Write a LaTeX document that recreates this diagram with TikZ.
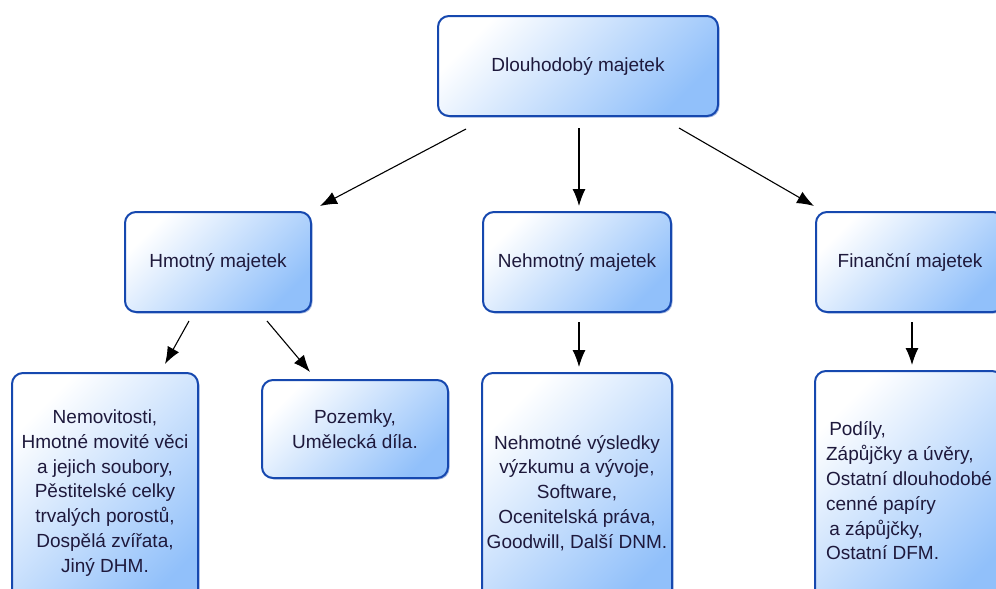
\documentclass[tikz,border=0pt]{standalone}
\usepackage{fontspec}
\setmainfont{Liberation Sans}
\usetikzlibrary{arrows.meta,shadows}
\definecolor{boxline}{RGB}{22,72,175}
\definecolor{boxblue}{RGB}{145,192,250}
\definecolor{boxtext}{RGB}{30,25,60}
\tikzset{arrowout/.style={-{Latex[length=17pt,width=13pt]},line width=1.1pt},
  box/.style={rectangle, rounded corners=11pt, draw=boxline, line width=2pt,
    top color=white, bottom color=boxblue, shading angle=45, text=boxtext,
    align=center, inner sep=0pt, font=\fontsize{19}{24.8}\selectfont,
    drop shadow={shadow xshift=1.5pt,shadow yshift=-1.5pt,fill=boxline,opacity=0.35}}}

\begin{document}
\begin{tikzpicture}[x=1pt,y=-1pt]

\path[use as bounding box,clip] (0,0) rectangle (996,589);
\fill[white] (0,0) rectangle (996,589);

\node (dm) at (578,66)[box,minimum width=280pt,minimum height=100pt]{Dlouhodobý majetek};

\node (hm) at (218,262)[box,minimum width=186pt,minimum height=100pt]{Hmotný majetek};
\node (nm) at (577,262)[box,minimum width=188pt,minimum height=100pt]{Nehmotný majetek};
\node (fm) at (910,262)[box,minimum width=188pt,minimum height=100pt]{Finanční majetek};

\node (hm1) at (105,493)[box,minimum width=186pt,minimum height=240pt]{Nemovitosti,\\Hmotné movité věci\\a jejich soubory,\\Pěstitelské celky\\trvalých porostů,\\Dospělá zvířata,\\Jiný DHM.};
\node (hm2) at (355,429)[box,minimum width=186pt,minimum height=98pt]{Pozemky,\\Umělecká díla.};
\node (nm1) at (577,493)[box,minimum width=190pt,minimum height=240pt]{Nehmotné výsledky\\výzkumu a vývoje,\\Software,\\Ocenitelská práva,\\Goodwill, Další DNM.};
\node (fm1) at (909,491)[box,minimum width=188pt,minimum height=240pt,align=left]{\,Podíly,\\Zápůjčky a úvěry,\\Ostatní dlouhodobé\\cenné papíry\\\,a zápůjčky,\\Ostatní DFM.};

\draw[arrowout] ([shift={(29,12)}]dm.south west) -- ([shift={(8,-5)}]hm.north east);
\draw[arrowout] ([shift={(1,11)}]dm.south) -- ([shift={(2,-5)}]nm.north);
\draw[arrowout] ([shift={(-40,11)}]dm.south east) -- ([shift={(-1,-5)}]fm.north west);

\draw[arrowout] ([shift={(-29,8)}]hm.south) -- ([shift={(60,-8)}]hm1.north);
\draw[arrowout] ([shift={(-45,8)}]hm.south east) -- ([shift={(-45,-7)}]hm2.north);
\draw[arrowout] ([shift={(2,9)}]nm.south) -- ([shift={(2,-5)}]nm1.north);
\draw[arrowout] ([shift={(2,9)}]fm.south) -- ([shift={(3,-5)}]fm1.north);

\end{tikzpicture}
\end{document}
